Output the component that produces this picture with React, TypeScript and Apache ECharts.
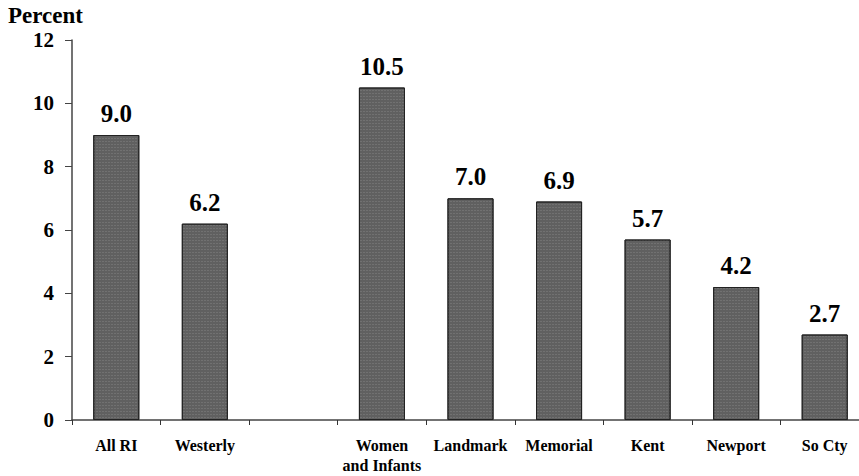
import React, { useEffect, useRef } from "react";
import * as echarts from "echarts";

const categories = ["All RI", "Westerly", "", "Women\nand Infants", "Landmark", "Memorial", "Kent", "Newport", "So Cty"];
const values: (number | string)[] = [9.0, 6.2, "-", 10.5, 7.0, 6.9, 5.7, 4.2, 2.7];
const yMin = 0;
const yMax = 12;
const yInterval = 2;
const yTitle = "Percent";

export default function App() {
  const ref = useRef<HTMLDivElement>(null);
  useEffect(() => {
    const chart = echarts.init(ref.current!, undefined, { renderer: "svg" });
    const font = "Liberation Serif";
    chart.setOption({
      animation: false,
      backgroundColor: "#ffffff",
      textStyle: { fontFamily: font },
      graphic: [
        {
          type: "text",
          left: 8,
          top: 4,
          style: { text: yTitle, fontFamily: font, fontWeight: "bold", fontSize: 23, fill: "#000" },
        },
      ],
      grid: { left: 72, right: 0, top: 40, bottom: 56, containLabel: false },
      xAxis: {
        type: "category",
        data: categories,
        axisLine: { lineStyle: { color: "#444", width: 1.5 } },
        axisTick: { show: true, length: 5, lineStyle: { color: "#333" } },
        axisLabel: {
          interval: 0,
          margin: 15,
          fontFamily: font,
          fontWeight: "bold",
          fontSize: 16,
          color: "#000",
          lineHeight: 20,
        },
      },
      yAxis: {
        type: "value",
        min: yMin,
        max: yMax,
        interval: yInterval,
        axisLine: { show: true, lineStyle: { color: "#444", width: 1.5 } },
        axisTick: { show: true, length: 7, lineStyle: { color: "#444" } },
        splitLine: { show: false },
        axisLabel: {
          margin: 18,
          fontFamily: font,
          fontWeight: "bold",
          fontSize: 21,
          color: "#000",
        },
      },
      series: [
        {
          type: "bar",
          data: values,
          barWidth: "52%",
          itemStyle: {
            color: "#606060",
            borderColor: "#222",
            borderWidth: 1,
            decal: {
              symbol: "rect",
              symbolSize: 0.6,
              dashArrayX: [2, 1],
              dashArrayY: [1, 2],
              color: "rgba(255,255,255,0.35)",
              rotation: 0,
            },
          },
          label: {
            show: true,
            position: "top",
            distance: 9,
            fontFamily: font,
            fontWeight: "bold",
            fontSize: 25,
            color: "#000",
            formatter: (p: any) => (typeof p.value === "number" ? p.value.toFixed(1) : ""),
          },
        },
      ],
    });
    return () => chart.dispose();
  }, []);
  return (
    <div style={{ position: "fixed", left: 0, top: 0, width: 859, height: 476, overflow: "hidden" }}>
      <div ref={ref} style={{ width: 869, height: 476 }} />
    </div>
  );
}
